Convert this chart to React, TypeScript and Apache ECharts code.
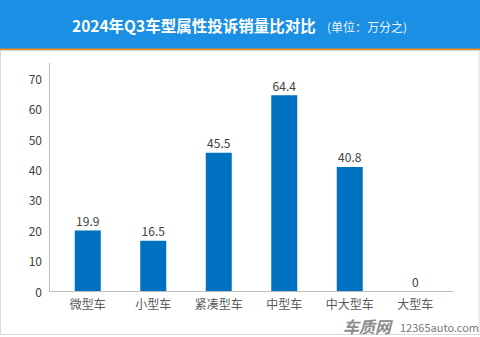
import React, { useEffect, useRef } from "react";
import * as echarts from "echarts";

const categories = ["微型车", "小型车", "紧凑型车", "中型车", "中大型车", "大型车"];
const values = [19.9, 16.5, 45.5, 64.4, 40.8, 0];
const titleText = "2024年Q3车型属性投诉销量比对比";
const unitText = "(单位：万分之)";
const yMin = 0;
const yMax = 75;
const yInterval = 10;

const FONT = '"Noto Sans CJK SC", "Noto Sans", sans-serif';

export default function App() {
  const ref = useRef<HTMLDivElement>(null);
  useEffect(() => {
    document.body.style.margin = "0";
    const chart = echarts.init(ref.current!, null, { renderer: "svg" });
    chart.setOption({
      animation: false,
      backgroundColor: "#ffffff",
      textStyle: { fontFamily: FONT },
      grid: { left: 55, right: 32, top: 63, bottom: 46 },
      xAxis: {
        type: "category",
        data: categories,
        axisLine: { show: false },
        axisTick: { show: false },
        axisLabel: { color: "#595959", fontSize: 12, margin: 6, fontFamily: FONT },
      },
      yAxis: {
        type: "value",
        min: yMin,
        max: yMax,
        interval: yInterval,
        offset: 6,
        axisLine: { show: true, lineStyle: { color: "#bfbfbf", width: 1 } },
        axisTick: { show: false },
        splitLine: { show: false },
        axisLabel: {
          color: "#404040",
          fontSize: 12,
          margin: 7,
          showMaxLabel: false,
          fontFamily: FONT,
          padding: [0, 0, 5, 0],
        },
      },
      series: [
        {
          type: "bar",
          data: values,
          barWidth: 26,
          itemStyle: { color: "#0070C0" },
          label: {
            show: true,
            position: "top",
            distance: 4,
            color: "#404040",
            fontSize: 12,
            fontFamily: FONT,
          },
        },
      ],
      graphic: [
        { type: "rect", shape: { x: 0, y: 0, width: 480, height: 49 }, style: { fill: "#1a8fe3" }, z: -1 },
        { type: "rect", shape: { x: 0, y: 48.5, width: 480, height: 2 }, style: { fill: "#f28a1c" }, z: -1 },
        {
          type: "rect",
          shape: { x: 0.5, y: 50.5, width: 478.5, height: 284 },
          style: { fill: "none", stroke: "#d9d9d9", lineWidth: 1 },
          z: -1,
        },
        { type: "line", shape: { x1: 49, y1: 291.5, x2: 453, y2: 291.5 }, style: { stroke: "#bfbfbf", lineWidth: 1 }, z: 5 },
        {
          type: "text",
          x: 72,
          y: 25,
          style: {
            text: titleText,
            fill: "#ffffff",
            font: `bold 15.5px ${FONT}`,
            verticalAlign: "middle",
          },
        },
        {
          type: "text",
          x: 327,
          y: 26,
          style: {
            text: unitText,
            fill: "#eef6ff",
            font: `12px ${FONT}`,
            verticalAlign: "middle",
          },
        },
        {
          type: "text",
          x: 343,
          y: 326,
          style: {
            text: "车质网",
            fill: "#8c8c8c",
            font: `bold italic 16px ${FONT}`,
            verticalAlign: "middle",
          },
        },
        {
          type: "text",
          x: 400,
          y: 327,
          style: {
            text: "12365auto.com",
            fill: "#7a7a7a",
            font: `11px ${FONT}`,
            verticalAlign: "middle",
          },
        },
      ],
    });
    return () => chart.dispose();
  }, []);
  return <div ref={ref} style={{ width: 480, height: 337, position: "fixed", left: 0, top: 0 }} />;
}
